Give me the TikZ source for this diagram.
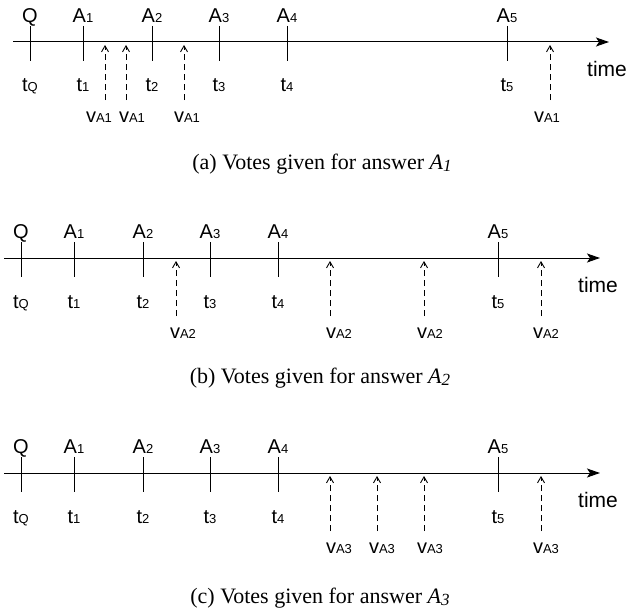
\documentclass[tikz,border=0pt]{standalone}
\usepackage{fontspec}
\setmainfont{Liberation Serif}
\newfontfamily\labfont{Liberation Sans}
\usetikzlibrary{arrows.meta}

% label with a small index after it
\newcommand{\lbl}[2]{#1{\fontsize{13}{13}\selectfont #2}}
% italic caption symbol
\newcommand{\capsym}[1]{\textit{A}\raisebox{-2pt}{\fontsize{17}{17}\selectfont\itshape #1}}

\tikzset{
  axisline/.style={line width=1pt, -{Stealth[length=13pt,width=9pt,inset=3pt]}},
  tickline/.style={line width=1pt},
  vote/.style={line width=0.9pt, dash pattern=on 6pt off 4pt, -{Straight Barb[length=6pt,width=7pt]}},
  lab/.style={font=\labfont\fontsize{20}{20}\selectfont, inner sep=0pt, anchor=base},
  timelab/.style={font=\labfont\fontsize{21}{21}\selectfont, inner sep=0pt, anchor=base west},
  captext/.style={font=\fontsize{22}{22}\selectfont, inner sep=0pt, anchor=base}
}

\begin{document}
\begin{tikzpicture}[x=1pt, y=-1pt]
  \useasboundingbox (0,0) rectangle (634,610);

  % (a) votes for A1
  \begin{scope}[shift={(9,42)}]
    \coordinate (astart) at (4,0);
    \coordinate (aend) at (600,0);
    \draw[axisline] (astart) -- (aend);
    \node[timelab] (atime) at (578,34) {time};
    % ticks
    \draw[tickline] (21,-16) -- (21,19);
    \draw[tickline] (74,-16) -- (74,19);
    \draw[tickline] (143,-16) -- (143,19);
    \draw[tickline] (210,-16) -- (210,19);
    \draw[tickline] (278,-16) -- (278,19);
    \draw[tickline] (498,-16) -- (498,19);
    \node[lab] (aQ) at (21,-19.5) {Q};
    \node[lab] (aA1) at (74,-19.5) {\lbl{A}{1}};
    \node[lab] (aA2) at (143,-19.5) {\lbl{A}{2}};
    \node[lab] (aA3) at (210,-19.5) {\lbl{A}{3}};
    \node[lab] (aA4) at (278,-19.5) {\lbl{A}{4}};
    \node[lab] (aA5) at (498,-19.5) {\lbl{A}{5}};
    \node[lab] (atQ) at (21,50) {\lbl{t}{Q}};
    \node[lab] (at1) at (74,50) {\lbl{t}{1}};
    \node[lab] (at2) at (143,50) {\lbl{t}{2}};
    \node[lab] (at3) at (210,50) {\lbl{t}{3}};
    \node[lab] (at4) at (278,50) {\lbl{t}{4}};
    \node[lab] (at5) at (498,50) {\lbl{t}{5}};
    % votes
    \draw[vote] (96,58) coordinate (av1b) -- (96,3) coordinate (av1t);
    \draw[vote] (117,58) coordinate (av2b) -- (117,3) coordinate (av2t);
    \draw[vote] (175,58) coordinate (av3b) -- (175,3) coordinate (av3t);
    \draw[vote] (541,58) coordinate (av4b) -- (541,3) coordinate (av4t);
    \node[lab] (avl1) at (90,80) {\lbl{v}{A1}};
    \node[lab] (avl2) at (123,80) {\lbl{v}{A1}};
    \node[lab] (avl3) at (178,80) {\lbl{v}{A1}};
    \node[lab] (avl4) at (538,80) {\lbl{v}{A1}};
    \node[captext] (capa) at (313,127) {(a) Votes given for answer \capsym{1}};
  \end{scope}

  % (b) votes for A2
  \begin{scope}[shift={(0,258)}]
    \coordinate (bstart) at (4,0);
    \coordinate (bend) at (600,0);
    \draw[axisline] (bstart) -- (bend);
    \node[timelab] (btime) at (578,34) {time};
    % ticks
    \draw[tickline] (21,-16) -- (21,19);
    \draw[tickline] (74,-16) -- (74,19);
    \draw[tickline] (143,-16) -- (143,19);
    \draw[tickline] (210,-16) -- (210,19);
    \draw[tickline] (278,-16) -- (278,19);
    \draw[tickline] (498,-16) -- (498,19);
    \node[lab] (bQ) at (21,-19.5) {Q};
    \node[lab] (bA1) at (74,-19.5) {\lbl{A}{1}};
    \node[lab] (bA2) at (143,-19.5) {\lbl{A}{2}};
    \node[lab] (bA3) at (210,-19.5) {\lbl{A}{3}};
    \node[lab] (bA4) at (278,-19.5) {\lbl{A}{4}};
    \node[lab] (bA5) at (498,-19.5) {\lbl{A}{5}};
    \node[lab] (btQ) at (21,50) {\lbl{t}{Q}};
    \node[lab] (bt1) at (74,50) {\lbl{t}{1}};
    \node[lab] (bt2) at (143,50) {\lbl{t}{2}};
    \node[lab] (bt3) at (210,50) {\lbl{t}{3}};
    \node[lab] (bt4) at (278,50) {\lbl{t}{4}};
    \node[lab] (bt5) at (498,50) {\lbl{t}{5}};
    % votes
    \draw[vote] (176,58) coordinate (bv1b) -- (176,3) coordinate (bv1t);
    \draw[vote] (330,58) coordinate (bv2b) -- (330,3) coordinate (bv2t);
    \draw[vote] (424,58) coordinate (bv3b) -- (424,3) coordinate (bv3t);
    \draw[vote] (541,58) coordinate (bv4b) -- (541,3) coordinate (bv4t);
    \node[lab] (bvl1) at (183,80) {\lbl{v}{A2}};
    \node[lab] (bvl2) at (339,80) {\lbl{v}{A2}};
    \node[lab] (bvl3) at (430,80) {\lbl{v}{A2}};
    \node[lab] (bvl4) at (546,80) {\lbl{v}{A2}};
    \node[captext] (capb) at (320,125) {(b) Votes given for answer \capsym{2}};
  \end{scope}

  % (c) votes for A3
  \begin{scope}[shift={(0,473)}]
    \coordinate (cstart) at (4,0);
    \coordinate (cend) at (600,0);
    \draw[axisline] (cstart) -- (cend);
    \node[timelab] (ctime) at (578,34) {time};
    % ticks
    \draw[tickline] (21,-16) -- (21,19);
    \draw[tickline] (74,-16) -- (74,19);
    \draw[tickline] (143,-16) -- (143,19);
    \draw[tickline] (210,-16) -- (210,19);
    \draw[tickline] (278,-16) -- (278,19);
    \draw[tickline] (498,-16) -- (498,19);
    \node[lab] (cQ) at (21,-19.5) {Q};
    \node[lab] (cA1) at (74,-19.5) {\lbl{A}{1}};
    \node[lab] (cA2) at (143,-19.5) {\lbl{A}{2}};
    \node[lab] (cA3) at (210,-19.5) {\lbl{A}{3}};
    \node[lab] (cA4) at (278,-19.5) {\lbl{A}{4}};
    \node[lab] (cA5) at (498,-19.5) {\lbl{A}{5}};
    \node[lab] (ctQ) at (21,50) {\lbl{t}{Q}};
    \node[lab] (ct1) at (74,50) {\lbl{t}{1}};
    \node[lab] (ct2) at (143,50) {\lbl{t}{2}};
    \node[lab] (ct3) at (210,50) {\lbl{t}{3}};
    \node[lab] (ct4) at (278,50) {\lbl{t}{4}};
    \node[lab] (ct5) at (498,50) {\lbl{t}{5}};
    % votes
    \draw[vote] (330,58) coordinate (cv1b) -- (330,3) coordinate (cv1t);
    \draw[vote] (377,58) coordinate (cv2b) -- (377,3) coordinate (cv2t);
    \draw[vote] (424,58) coordinate (cv3b) -- (424,3) coordinate (cv3t);
    \draw[vote] (541,58) coordinate (cv4b) -- (541,3) coordinate (cv4t);
    \node[lab] (cvl1) at (339,80) {\lbl{v}{A3}};
    \node[lab] (cvl2) at (382,80) {\lbl{v}{A3}};
    \node[lab] (cvl3) at (430,80) {\lbl{v}{A3}};
    \node[lab] (cvl4) at (546,80) {\lbl{v}{A3}};
    \node[captext] (capc) at (320,130) {(c) Votes given for answer \capsym{3}};
  \end{scope}
\end{tikzpicture}
\end{document}
